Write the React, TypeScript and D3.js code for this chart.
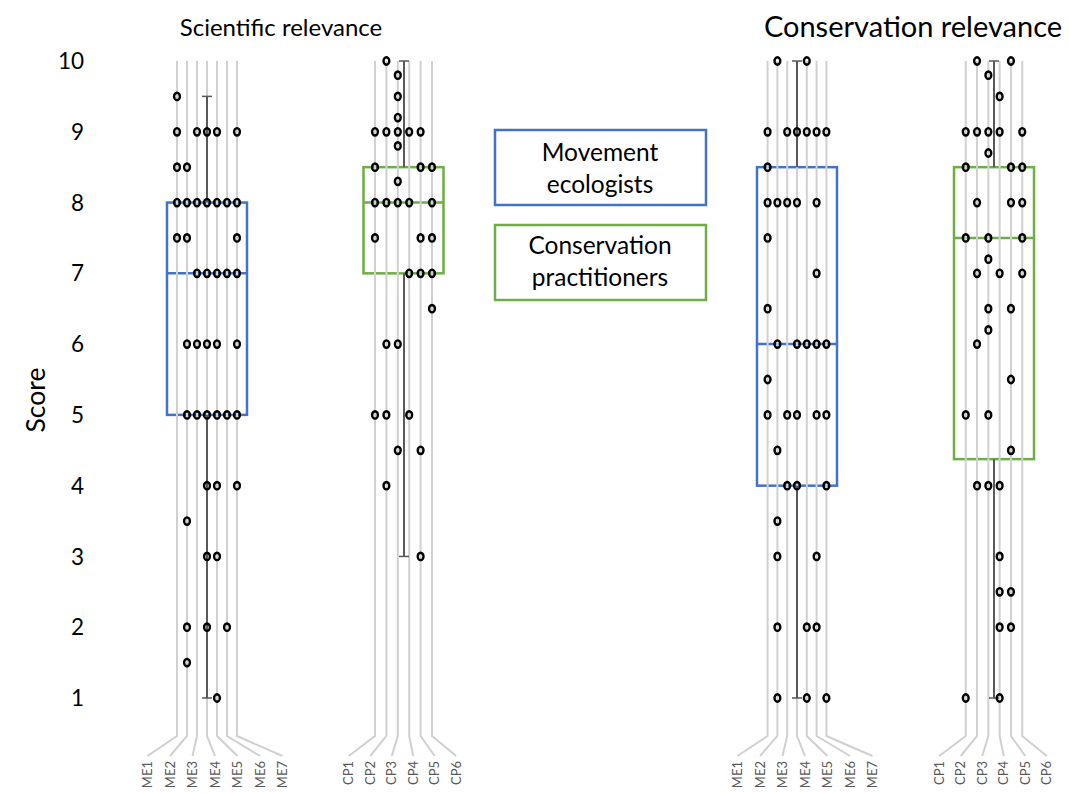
import React from 'react';
import * as d3 from 'd3';

const scoreTicks = [1, 2, 3, 4, 5, 6, 7, 8, 9, 10];
const meCategories = ['ME1', 'ME2', 'ME3', 'ME4', 'ME5', 'ME6', 'ME7'];
const cpCategories = ['CP1', 'CP2', 'CP3', 'CP4', 'CP5', 'CP6'];

// scores given by each respondent (one array per respondent line)
const sciME: number[][] = [
  [9.5, 9, 8.5, 8, 7.5],
  [8.5, 8, 7.5, 6, 5, 3.5, 2, 1.5],
  [9, 8, 7, 6, 5],
  [9, 8, 7, 6, 5, 4, 3, 2],
  [9, 8, 7, 6, 5, 4, 3, 1],
  [8, 7, 5, 2],
  [9, 8, 7.5, 7, 6, 5, 4],
];
const sciCP: number[][] = [
  [9, 8.5, 8, 7.5, 5],
  [10, 9, 8, 6, 5, 4],
  [9.8, 9.5, 9.2, 9, 8.8, 8.3, 8, 6, 4.5],
  [9, 8, 7, 5],
  [9, 8.5, 7.5, 7, 4.5, 3],
  [8.5, 8, 7.5, 7, 6.5],
];
const consME: number[][] = [
  [9, 8.5, 8, 7.5, 6.5, 5.5, 5],
  [10, 8, 6, 4.5, 3.5, 3, 2, 1],
  [9, 8, 5, 4],
  [9, 8, 6, 5, 4],
  [10, 9, 6, 2, 1],
  [9, 8, 7, 6, 5, 3, 2],
  [9, 6, 5, 4, 1],
];
const consCP: number[][] = [
  [9, 8.5, 7.5, 5, 1],
  [10, 9, 8, 7, 6, 4],
  [9.8, 9, 8.7, 7.5, 7.2, 6.5, 6.2, 5, 4],
  [9.5, 9, 7, 4, 3, 2.5, 2, 1],
  [10, 8.5, 8, 6.5, 5.5, 4.5, 2.5, 2],
  [9, 8.5, 8, 7.5, 7],
];

// box stats: [min, q1, median, q3, max]
const sciMEBox = [1, 5, 7, 8, 9.5];
const sciCPBox = [3, 7, 8, 8.5, 10];
const consMEBox = [1, 4, 6, 8.5, 10];
const consCPBox = [1, 4.375, 7.5, 8.5, 10];

const panelTitles = ['Scientific relevance', 'Conservation relevance'];
const legendME = ['Movement', 'ecologists'];
const legendCP = ['Conservation', 'practitioners'];
const axisTitle = 'Score';

const BLUE = '#4472C4';
const GREEN = '#70AD47';
const FONT = "Lato, 'Open Sans', sans-serif";

const y = d3.scaleLinear().domain([1, 10]).range([698, 61]);

type Group = {
  cats: string[];
  data: number[][];
  box: number[];
  center: number;
  spacing: number;
  labelSpacing: number;
  labelOffset: number;
  color: string;
  whiskerX: number;
};

const groups: Group[] = [
  { cats: meCategories, data: sciME, box: sciMEBox, center: 207, spacing: 10, labelSpacing: 22.5, labelOffset: 8, color: BLUE, whiskerX: 207 },
  { cats: cpCategories, data: sciCP, box: sciCPBox, center: 403.5, spacing: 11.4, labelSpacing: 21.5, labelOffset: -1, color: GREEN, whiskerX: 404 },
  { cats: meCategories, data: consME, box: consMEBox, center: 797, spacing: 9.8, labelSpacing: 22.5, labelOffset: 8, color: BLUE, whiskerX: 797 },
  { cats: cpCategories, data: consCP, box: consCPBox, center: 994, spacing: 11.3, labelSpacing: 21.5, labelOffset: -1, color: GREEN, whiskerX: 994 },
];

const BOX_HALF = 40;
const LINE_BEND = 736;
const LINE_END = 756;

function GroupView({ g }: { g: Group }) {
  const n = g.cats.length;
  const xl = d3.scalePoint<string>().domain(g.cats)
    .range([g.center - (g.spacing * (n - 1)) / 2, g.center + (g.spacing * (n - 1)) / 2]);
  const lc = g.center + g.labelOffset;
  const xlab = d3.scalePoint<string>().domain(g.cats)
    .range([lc - (g.labelSpacing * (n - 1)) / 2, lc + (g.labelSpacing * (n - 1)) / 2]);
  const [mn, q1, med, q3, mx] = g.box;
  const bx0 = g.center - BOX_HALF;
  const bx1 = g.center + BOX_HALF;
  return (
    <g>
      <rect x={bx0} y={y(q3)} width={bx1 - bx0} height={y(q1) - y(q3)} fill="none" stroke={g.color} strokeWidth={2.5} />
      <line x1={bx0} x2={bx1} y1={y(med)} y2={y(med)} stroke={g.color} strokeWidth={2.5} />
      {g.cats.map((c) => (
        <path key={c} d={`M${xl(c)},${y(10)} V${LINE_BEND} L${xlab(c)},${LINE_END}`} fill="none" stroke="#D0D0D0" strokeWidth={2} />
      ))}
      <line x1={g.whiskerX} x2={g.whiskerX} y1={y(mx)} y2={y(q3)} stroke="#595959" strokeWidth={2} />
      <line x1={g.whiskerX} x2={g.whiskerX} y1={y(q1)} y2={y(mn)} stroke="#595959" strokeWidth={2} />
      <line x1={g.whiskerX - 5} x2={g.whiskerX + 5} y1={y(mx)} y2={y(mx)} stroke="#595959" strokeWidth={1.5} />
      <line x1={g.whiskerX - 5} x2={g.whiskerX + 5} y1={y(mn)} y2={y(mn)} stroke="#595959" strokeWidth={1.5} />
      {g.cats.map((c, i) =>
        g.data[i].map((v, j) => (
          <ellipse key={c + j} cx={xl(c)} cy={y(v)} rx={2.9} ry={3.7} fill="none" stroke="#000" strokeWidth={2.4} />
        ))
      )}
      {g.cats.map((c) => (
        <text key={'t' + c} transform={`translate(${(xlab(c) as number) + 4.5},${LINE_END + 5}) rotate(-90)`} textAnchor="end"
          fontSize={13} fill="#595959" fontFamily={FONT}>{c}</text>
      ))}
    </g>
  );
}

export default function App() {
  return (
    <svg width={1069} height={794} style={{ position: 'absolute', left: 0, top: 0, background: '#fff' }} fontFamily={FONT}>
      <rect width={1069} height={794} fill="#fff" />
      {scoreTicks.map((t) => (
        <text key={t} x={84} y={y(t)} dy="0.36em" textAnchor="end" fontSize={22.5} fill="#000">{t}</text>
      ))}
      <text transform="translate(45,400) rotate(-90)" textAnchor="middle" fontSize={26.5} fill="#000">{axisTitle}</text>
      <text x={281} y={36} textAnchor="middle" fontSize={24} fill="#000">{panelTitles[0]}</text>
      <text x={913} y={37} textAnchor="middle" fontSize={29} fill="#000">{panelTitles[1]}</text>
      {groups.map((g, i) => <GroupView key={i} g={g} />)}
      <rect x={495} y={130} width={211} height={75} fill="#fff" stroke={BLUE} strokeWidth={2.5} />
      <text x={600} y={161} textAnchor="middle" fontSize={24.5} fill="#000">{legendME[0]}</text>
      <text x={600} y={193} textAnchor="middle" fontSize={24.5} fill="#000">{legendME[1]}</text>
      <rect x={495} y={225} width={211} height={75} fill="#fff" stroke={GREEN} strokeWidth={2.5} />
      <text x={600} y={254} textAnchor="middle" fontSize={24.5} fill="#000">{legendCP[0]}</text>
      <text x={600} y={286} textAnchor="middle" fontSize={24.5} fill="#000">{legendCP[1]}</text>
    </svg>
  );
}
